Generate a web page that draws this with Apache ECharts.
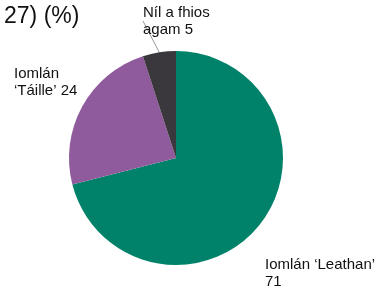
<!DOCTYPE html>
<html>
<head>
<meta charset="utf-8">
<script src="https://cdn.jsdelivr.net/npm/echarts@6/dist/echarts.min.js"></script>
<style>
    html, body { margin: 0; padding: 0; background: #fff; }
    #chart { width: 384px; height: 295px; }
</style>
</head>
<body>
<div id="chart"></div>
<script>
'use strict';

// sonraí
let names = ['Iomlán ‘Leathan’\n71', 'Iomlán\n‘Táille’ 24', 'Níl a fhios\nagam 5'],
    values = [71, 24, 5],
    colors = ['#00826a', '#8f5b9c', '#3a383c'];

// ionad na lipéad
let labelPos = [
    {x: 265, y: 256},
    {x: 14, y: 65},
    {x: 143, y: 4}
];

let myChart = echarts.init(document.getElementById('chart'));

let data = [];
for (let i = 0; i < values.length; i++) {
    data.push({
        name: names[i],
        value: values[i],
        itemStyle: {color: colors[i]},
        // an líne fhada go 'Leathan' ní theastaíonn
        labelLine: {show: i !== 0}
    });
}

let option = {
    animation: false,
    title: {
        text: '27) (%)',
        left: -1,
        top: 0,
        textStyle: {
            fontFamily: 'Liberation Sans',
            fontWeight: 'normal',
            fontSize: 23,
            color: '#111'
        }
    },
    series: [
        {
            type: 'pie',
            center: [176, 158],
            radius: [0, 107],
            startAngle: 90,
            clockwise: true,
            data: data,
            label: {
                show: true,
                formatter: '{b}',
                fontFamily: 'Liberation Sans',
                fontSize: 15,
                lineHeight: 17,
                color: '#111',
                overflow: 'none',
                width: 200
            },
            labelLine: {
                show: true,
                length: 6,
                length2: 4,
                lineStyle: {color: '#999', width: 1}
            },
            labelLayout: function (params) {
                let p = labelPos[params.dataIndex];
                return {
                    x: p.x,
                    y: p.y,
                    align: 'left',
                    verticalAlign: 'top'
                };
            }
        }
    ]
};

myChart.setOption(option);
</script>
</body>
</html>
